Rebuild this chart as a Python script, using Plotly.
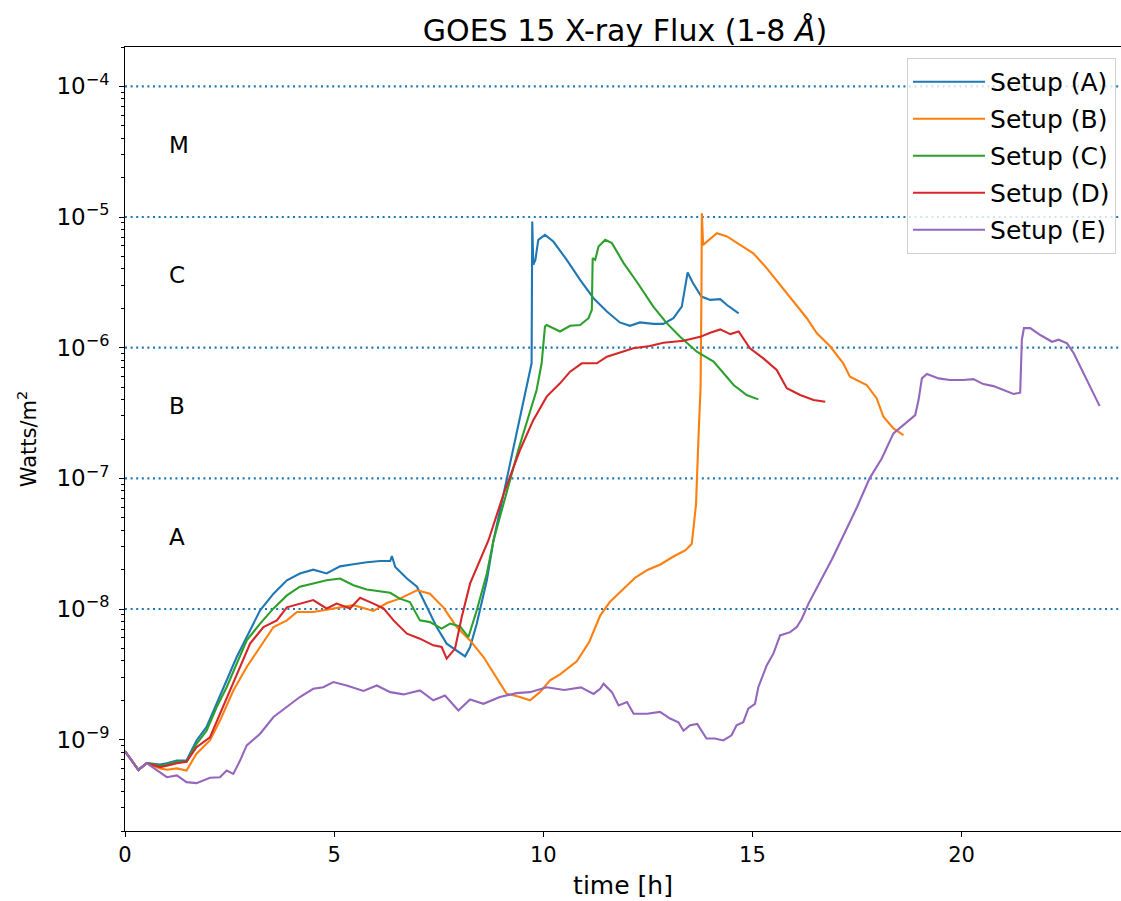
import math
import plotly.graph_objects as go

# GOES 15 X-ray flux (1-8 Å) for five simulation setups, time in hours
t_a = [0, 0.32, 0.52, 0.84, 1.0, 1.24, 1.47, 1.71, 1.95, 2.19, 2.43, 2.67, 2.91, 3.23, 3.55,
       3.87, 4.18, 4.50, 4.82, 5.14, 5.46, 5.78, 6.10, 6.34, 6.38, 6.46, 6.74, 6.98, 7.22,
       7.45, 7.69, 7.93, 8.13, 8.25, 8.41, 8.65, 8.81, 9.05, 9.28, 9.72, 9.735, 9.76, 9.81,
       9.88, 10.04, 10.24, 10.56, 10.88, 11.20, 11.52, 11.83, 12.07, 12.31, 12.63, 12.87,
       13.11, 13.31, 13.45, 13.58, 13.78, 13.99, 14.23, 14.39, 14.67]
flux_a = [8.17e-10, 5.87e-10, 6.61e-10, 6.46e-10, 6.61e-10, 6.92e-10, 6.92e-10, 9.86e-10,
          1.25e-9, 1.88e-9, 2.84e-9, 4.29e-9, 6.10e-9, 9.77e-9, 1.31e-8, 1.66e-8, 1.87e-8,
          2.00e-8, 1.87e-8, 2.12e-8, 2.20e-8, 2.28e-8, 2.33e-8, 2.33e-8, 2.54e-8, 2.10e-8,
          1.71e-8, 1.48e-8, 1.03e-8, 7.28e-9, 5.43e-9, 4.82e-9, 4.34e-9, 5.12e-9, 7.73e-9,
          1.66e-8, 3.36e-8, 7.59e-8, 1.64e-7, 7.59e-7, 9.25e-6, 4.31e-6, 4.70e-6, 6.68e-6,
          7.29e-6, 6.49e-6, 4.70e-6, 3.30e-6, 2.39e-6, 1.89e-6, 1.56e-6, 1.47e-6, 1.56e-6,
          1.52e-6, 1.52e-6, 1.68e-6, 2.06e-6, 3.76e-6, 3.11e-6, 2.46e-6, 2.32e-6, 2.35e-6,
          2.12e-6, 1.83e-6]

t_b = [0, 0.32, 0.52, 0.84, 1.0, 1.24, 1.47, 1.71, 2.03, 2.27, 2.59, 2.91, 3.23, 3.55, 3.87,
       4.11, 4.50, 4.98, 5.46, 5.94, 6.26, 6.57, 6.98, 7.29, 7.61, 7.93, 8.25, 8.57, 8.88,
       9.12, 9.44, 9.68, 9.92, 10.16, 10.40, 10.80, 11.10, 11.36, 11.59, 11.90, 12.20, 12.50,
       12.80, 13.10, 13.40, 13.55, 13.65, 13.72, 13.76, 13.78, 13.79, 13.82, 13.95, 14.15,
       14.39, 14.71, 15.02, 15.34, 15.66, 15.98, 16.30, 16.54, 16.86, 17.17, 17.33, 17.73,
       17.97, 18.13, 18.37, 18.61]
flux_b = [8.17e-10, 5.87e-10, 6.61e-10, 6.03e-10, 5.89e-10, 6.03e-10, 5.81e-10, 7.80e-10,
          9.86e-10, 1.40e-9, 2.38e-9, 3.60e-9, 5.12e-9, 7.28e-9, 8.18e-9, 9.48e-9, 9.48e-9,
          1.01e-8, 1.07e-8, 9.66e-9, 1.11e-8, 1.20e-8, 1.39e-8, 1.31e-8, 1.03e-8, 7.28e-9,
          5.75e-9, 4.29e-9, 3.01e-9, 2.25e-9, 2.12e-9, 2.00e-9, 2.31e-9, 2.84e-9, 3.16e-9,
          3.98e-9, 5.62e-9, 8.91e-9, 1.13e-8, 1.41e-8, 1.74e-8, 2.00e-8, 2.19e-8, 2.51e-8,
          2.82e-8, 3.16e-8, 6.31e-8, 2.51e-7, 5.01e-7, 2.51e-6, 1.07e-5, 6.12e-6, 6.68e-6,
          7.52e-6, 7.10e-6, 6.12e-6, 5.28e-6, 4.06e-6, 3.02e-6, 2.25e-6, 1.68e-6, 1.29e-6,
          1.02e-6, 7.59e-7, 6.00e-7, 5.18e-7, 4.09e-7, 2.96e-7, 2.41e-7, 2.14e-7]

t_c = [0, 0.32, 0.52, 0.84, 1.0, 1.24, 1.47, 1.71, 1.95, 2.19, 2.43, 2.67, 2.91, 3.23, 3.55,
       3.87, 4.18, 4.50, 4.82, 5.14, 5.46, 5.78, 6.10, 6.34, 6.57, 6.81, 7.05, 7.29, 7.57,
       7.77, 8.01, 8.21, 8.41, 8.65, 8.81, 9.10, 9.40, 9.84, 9.96, 10.04, 10.08, 10.40, 10.64,
       10.88, 11.08, 11.16, 11.18, 11.24, 11.32, 11.48, 11.64, 11.92, 12.23, 12.63, 12.95,
       13.27, 13.67, 14.07, 14.31, 14.55, 14.86, 15.14]
flux_c = [8.17e-10, 5.87e-10, 6.61e-10, 6.31e-10, 6.46e-10, 6.76e-10, 6.76e-10, 9.29e-10,
          1.17e-9, 1.77e-9, 2.52e-9, 3.82e-9, 5.75e-9, 7.73e-9, 1.01e-8, 1.27e-8, 1.48e-8,
          1.57e-8, 1.66e-8, 1.71e-8, 1.52e-8, 1.41e-8, 1.37e-8, 1.33e-8, 1.20e-8, 1.13e-8,
          8.18e-9, 7.94e-9, 7.08e-9, 7.73e-9, 7.36e-9, 6.10e-9, 9.77e-9, 1.87e-8, 3.36e-8,
          7.41e-8, 1.64e-7, 4.74e-7, 7.59e-7, 1.45e-6, 1.49e-6, 1.33e-6, 1.47e-6, 1.49e-6,
          1.68e-6, 1.95e-6, 4.84e-6, 4.70e-6, 5.94e-6, 6.68e-6, 6.31e-6, 4.44e-6, 3.21e-6,
          2.06e-6, 1.54e-6, 1.21e-6, 9.31e-7, 7.82e-7, 6.37e-7, 5.18e-7, 4.34e-7, 4.02e-7]

t_d = [0, 0.32, 0.52, 0.84, 1.0, 1.24, 1.47, 1.71, 2.03, 2.27, 2.51, 2.75, 2.99, 3.31, 3.63,
       3.87, 4.18, 4.50, 4.82, 5.06, 5.38, 5.62, 5.94, 6.18, 6.42, 6.74, 7.05, 7.37, 7.57,
       7.69, 7.89, 8.05, 8.25, 8.49, 8.69, 9.05, 9.44, 9.76, 10.08, 10.40, 10.64, 10.92,
       11.28, 11.52, 11.83, 12.15, 12.55, 12.87, 13.35, 13.75, 13.99, 14.23, 14.47, 14.67,
       14.94, 15.26, 15.58, 15.82, 16.14, 16.46, 16.74]
flux_d = [8.17e-10, 5.87e-10, 6.61e-10, 6.17e-10, 6.31e-10, 6.61e-10, 6.76e-10, 8.75e-10,
          1.04e-9, 1.58e-9, 2.38e-9, 3.60e-9, 5.43e-9, 7.28e-9, 8.18e-9, 1.03e-8, 1.10e-8,
          1.17e-8, 1.01e-8, 1.10e-8, 1.01e-8, 1.22e-8, 1.10e-8, 1.01e-8, 8.18e-9, 6.47e-9,
          5.93e-9, 5.27e-9, 5.12e-9, 4.17e-9, 4.98e-9, 8.69e-9, 1.57e-8, 2.36e-8, 3.36e-8,
          7.59e-8, 1.64e-7, 2.79e-7, 4.22e-7, 5.33e-7, 6.55e-7, 7.59e-7, 7.59e-7, 8.53e-7,
          9.16e-7, 9.89e-7, 1.03e-6, 1.09e-6, 1.13e-6, 1.21e-6, 1.30e-6, 1.38e-6, 1.27e-6,
          1.33e-6, 9.89e-7, 8.28e-7, 6.75e-7, 4.89e-7, 4.34e-7, 3.97e-7, 3.85e-7]

t_e = [0, 0.32, 0.52, 0.76, 1.0, 1.24, 1.47, 1.71, 2.03, 2.27, 2.43, 2.59, 2.75, 2.91, 3.23,
       3.55, 3.87, 4.18, 4.50, 4.74, 4.98, 5.30, 5.70, 6.02, 6.34, 6.66, 7.05, 7.37, 7.65,
       7.97, 8.25, 8.57, 8.96, 9.36, 9.68, 10.08, 10.50, 10.90, 11.20, 11.36, 11.44, 11.64,
       11.80, 12.00, 12.16, 12.48, 12.79, 13.03, 13.23, 13.35, 13.51, 13.68, 13.90, 14.10,
       14.30, 14.50, 14.62, 14.78, 14.90, 15.06, 15.14, 15.34, 15.50, 15.66, 15.90, 16.06,
       16.18, 16.34, 16.60, 16.90, 17.20, 17.50, 17.80, 18.09, 18.37, 18.61, 18.89, 18.97,
       19.05, 19.17, 19.45, 19.72, 20.04, 20.28, 20.52, 20.76, 21.00, 21.24, 21.40, 21.44,
       21.49, 21.64, 21.88, 22.16, 22.32, 22.52, 22.68, 22.88, 23.08, 23.30]
flux_e = [8.17e-10, 5.87e-10, 6.61e-10, 5.81e-10, 5.16e-10, 5.32e-10, 4.73e-10, 4.65e-10,
          5.11e-10, 5.16e-10, 5.81e-10, 5.47e-10, 6.92e-10, 9.04e-10, 1.11e-9, 1.49e-9,
          1.77e-9, 2.12e-9, 2.45e-9, 2.52e-9, 2.76e-9, 2.60e-9, 2.36e-9, 2.60e-9, 2.31e-9,
          2.22e-9, 2.38e-9, 2.00e-9, 2.18e-9, 1.67e-9, 2.03e-9, 1.88e-9, 2.12e-9, 2.27e-9,
          2.31e-9, 2.52e-9, 2.40e-9, 2.51e-9, 2.24e-9, 2.45e-9, 2.68e-9, 2.31e-9, 1.83e-9,
          1.94e-9, 1.58e-9, 1.58e-9, 1.63e-9, 1.45e-9, 1.36e-9, 1.17e-9, 1.29e-9, 1.32e-9,
          1.02e-9, 1.02e-9, 9.86e-10, 1.08e-9, 1.29e-9, 1.36e-9, 1.73e-9, 1.88e-9, 2.52e-9,
          3.70e-9, 4.55e-9, 6.28e-9, 6.65e-9, 7.28e-9, 8.43e-9, 1.10e-8, 1.58e-8, 2.40e-8,
          3.80e-8, 6.03e-8, 1.00e-7, 1.42e-7, 2.21e-7, 2.56e-7, 3.05e-7, 3.97e-7, 5.82e-7,
          6.28e-7, 5.82e-7, 5.65e-7, 5.65e-7, 5.74e-7, 5.26e-7, 5.08e-7, 4.74e-7, 4.42e-7,
          4.52e-7, 1.15e-6, 1.41e-6, 1.41e-6, 1.25e-6, 1.11e-6, 1.15e-6, 1.08e-6, 9.06e-7,
          6.75e-7, 4.89e-7, 3.57e-7]

setup_names = ["Setup (A)", "Setup (B)", "Setup (C)", "Setup (D)", "Setup (E)"]
setup_colors = ["#1f77b4", "#ff7f0e", "#2ca02c", "#d62728", "#9467bd"]
series = [(t_a, flux_a), (t_b, flux_b), (t_c, flux_c), (t_d, flux_d), (t_e, flux_e)]

# flare class boundaries and the class letters placed inside each band
class_bounds = [1e-8, 1e-7, 1e-6, 1e-5, 1e-4]
class_letters = ["A", "B", "C", "M"]

ytick_vals = [1e-9, 1e-8, 1e-7, 1e-6, 1e-5, 1e-4]
ytick_exps = ["\u22129", "\u22128", "\u22127", "\u22126", "\u22125", "\u22124"]
xtick_vals = [0, 5, 10, 15, 20]

X_RANGE = [0, 23.81]
Y_RANGE_LOG = [-9.699, -3.699]
FONT = "DejaVu Sans"
TXT = "#000000"

ytick_text = ["10<sup>%s</sup>" % e for e in ytick_exps]

fig = go.Figure()

for lvl in class_bounds:
    fig.add_trace(go.Scatter(
        x=X_RANGE, y=[lvl, lvl], mode="lines",
        line=dict(color="#1f77b4", width=2.2, dash="2px,3.6px"),
        showlegend=False, hoverinfo="skip"))

for (t, f), name, col in zip(series, setup_names, setup_colors):
    fig.add_trace(go.Scatter(
        x=t, y=f, mode="lines", name=name, legendgroup=name,
        line=dict(color=col, width=2.1)))

for letter, lvl in zip(class_letters, class_bounds[:-1]):
    fig.add_annotation(
        x=1.0, y=math.log10(3 * lvl), xref="x", yref="y", text=letter,
        showarrow=False, xanchor="left", yanchor="bottom", yshift=-5,
        font=dict(family=FONT, size=23, color=TXT))

minor_vals = [m * 10.0 ** e for e in range(-10, -3) for m in range(2, 10)]

fig.update_layout(
    width=1121, height=901,
    margin=dict(l=125, r=0, t=47, b=70),
    paper_bgcolor="white", plot_bgcolor="white",
    font=dict(family=FONT, size=21, color=TXT),
    title=dict(text="GOES 15 X-ray Flux (1-8 <i>Å</i>)", x=625 / 1121, xref="container",
               xanchor="center", y=1 - 30 / 901, yref="container", yanchor="middle",
               font=dict(family=FONT, size=30, color=TXT)),
    showlegend=True,
    legend=dict(x=0.995, y=0.986, xanchor="right", yanchor="top",
                bgcolor="rgba(255,255,255,0.8)", bordercolor="#d0d0d0", borderwidth=1,
                font=dict(family=FONT, size=25, color=TXT), tracegroupgap=1.5,
                itemwidth=72),
    xaxis=dict(range=X_RANGE, tickvals=xtick_vals, showgrid=False, zeroline=False,
               showline=True, linecolor="#000", linewidth=1, mirror=True,
               ticks="outside", ticklen=5, tickcolor="#000", tickwidth=1,
               tickfont=dict(family=FONT, size=21, color=TXT),
               title=dict(text="time [h]", font=dict(family=FONT, size=25, color=TXT),
                          standoff=10)),
    yaxis=dict(type="log", range=Y_RANGE_LOG, tickvals=ytick_vals, ticktext=ytick_text,
               showgrid=False, zeroline=False, showline=True, linecolor="#000",
               linewidth=1, mirror=False, ticks="outside", ticklen=5, tickcolor="#000",
               tickwidth=1, tickfont=dict(family=FONT, size=23, color=TXT),
               ticklabelstandoff=5,
               minor=dict(tickmode="array", tickvals=minor_vals, ticks="outside",
                          ticklen=3, tickcolor="#000", tickwidth=0.8, showgrid=False),
               title=dict(text="Watts/m<sup>2</sup>", font=dict(family=FONT, size=21, color=TXT),
                          standoff=14)),
)

fig.write_html("out.html")
